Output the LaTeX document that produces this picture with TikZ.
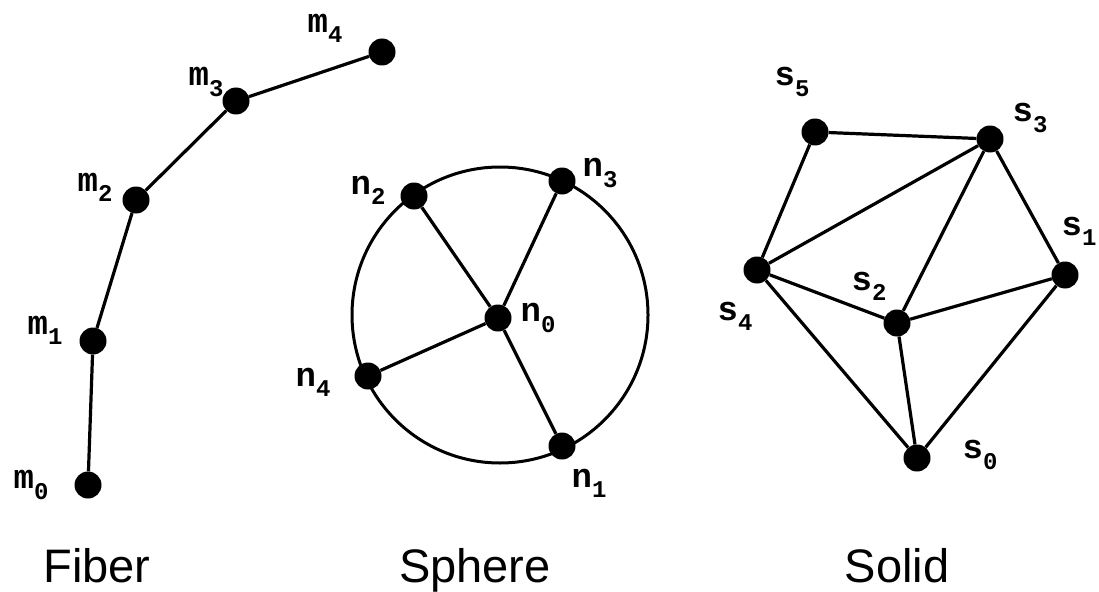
\documentclass[tikz,border=0pt]{standalone}
\usepackage{fontspec}
\setmainfont{Liberation Sans}
\newfontfamily\labfont{Liberation Mono}
\tikzset{
  dot/.style={circle, fill=black, minimum size=27pt, inner sep=0pt},
  link/.style={line width=3.2pt},
  ring/.style={line width=3pt, fill=white},
  lbl/.style={inner sep=0pt},
  title/.style={font=\fontsize{47}{54}\selectfont, inner sep=0pt, anchor=base}
}
\newcommand{\vlab}[2]{{\labfont\bfseries\fontsize{34}{34}\selectfont #1\raisebox{-.3em}{\fontsize{24}{24}\selectfont #2}}}

\begin{document}
\begin{tikzpicture}[x=1pt, y=-1pt]
  \useasboundingbox (0,0) rectangle (1099,591);

  % fiber
  \node[dot] (m0) at (88,485) {};
  \node[dot] (m1) at (93,341) {};
  \node[dot] (m2) at (136,200) {};
  \node[dot] (m3) at (236,101) {};
  \node[dot] (m4) at (382,52) {};
  \draw[link] (m0) -- (m1) -- (m2) -- (m3) -- (m4);
  \node[lbl] (lm0) at (31,485) {\vlab{m}{0}};
  \node[lbl] (lm1) at (45,330) {\vlab{m}{1}};
  \node[lbl] (lm2) at (95,187) {\vlab{m}{2}};
  \node[lbl] (lm3) at (206,82) {\vlab{m}{3}};
  \node[lbl] (lm4) at (325,28) {\vlab{m}{4}};
  \node[title] (fiber) at (97,582) {Fiber};

  % sphere
  \node[ring, circle, minimum size=296pt, draw] (ball) at (500,315) {};
  \node[dot] (n0) at (498,318) {};
  \node[dot] (n1) at (562,446) {};
  \node[dot] (n2) at (414,196) {};
  \node[dot] (n3) at (562,181) {};
  \node[dot] (n4) at (368,376) {};
  \foreach \k in {1,2,3,4} \draw[link] (n0) -- (n\k);
  \node[lbl] (ln0) at (538,318) {\vlab{n}{0}};
  \node[lbl] (ln1) at (589,483) {\vlab{n}{1}};
  \node[lbl] (ln2) at (368,190) {\vlab{n}{2}};
  \node[lbl] (ln3) at (600,173) {\vlab{n}{3}};
  \node[lbl] (ln4) at (313,382) {\vlab{n}{4}};
  \node[title] (sphere) at (475,582) {Sphere};

  % solid
  \node[dot] (s0) at (917,458) {};
  \node[dot] (s1) at (1065,275) {};
  \node[dot] (s2) at (897,323) {};
  \node[dot] (s3) at (990,139) {};
  \node[dot] (s4) at (757,270) {};
  \node[dot] (s5) at (815,132) {};
  \draw[link] (s5) -- (s3) -- (s1) -- (s0) -- (s4) -- (s5);
  \draw[link] (s4) -- (s3) -- (s2) -- (s1);
  \draw[link] (s4) -- (s2) -- (s0);
  \node[lbl] (ls0) at (980,455) {\vlab{s}{0}};
  \node[lbl] (ls1) at (1079,231) {\vlab{s}{1}};
  \node[lbl] (ls2) at (869,286) {\vlab{s}{2}};
  \node[lbl] (ls3) at (1030,118) {\vlab{s}{3}};
  \node[lbl] (ls4) at (735,316) {\vlab{s}{4}};
  \node[lbl] (ls5) at (792,82) {\vlab{s}{5}};
  \node[title] (solid) at (897,582) {Solid};
\end{tikzpicture}
\end{document}
